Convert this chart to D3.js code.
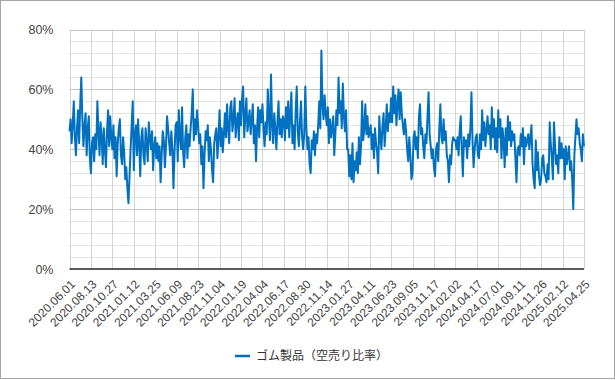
<!DOCTYPE html>
<html>
<head>
<meta charset="utf-8">
<script src="https://cdn.jsdelivr.net/npm/d3@7"></script>
<style>
  html, body { margin: 0; padding: 0; background: #fff; }
  svg { display: block; }
</style>
</head>
<body>
<svg id="chart" width="615" height="380"></svg>
<script>
// Tick labels (every 50 trading days)
const dateLabels = ["2020.06.01","2020.08.13","2020.10.27","2021.01.12","2021.03.25","2021.06.09",
  "2021.08.23","2021.11.04","2022.01.19","2022.04.04","2022.06.17","2022.08.30","2022.11.14",
  "2023.01.27","2023.04.11","2023.06.23","2023.09.05","2023.11.17","2024.02.02","2024.04.17",
  "2024.07.01","2024.09.11","2024.11.26","2025.02.12","2025.04.25"];

const seriesName = "ゴム製品（空売り比率）";

// Short-selling ratio (%), 20 samples per label interval
const values = [
  46, 50, 42, 48, 56, 44, 38, 47, 53, 42, 55, 64, 50, 41, 48, 52, 38, 47, 51, 37,
  32, 42, 44, 36, 45, 40, 56, 46, 38, 49, 44, 35, 47, 40, 34, 46, 53, 41, 51, 44,
  40, 48, 37, 44, 31, 42, 47, 50, 38, 35, 44, 39, 30, 34, 27, 22, 31, 40, 48, 56,
  33, 45, 48, 38, 50, 42, 31, 44, 47, 38, 35, 47, 42, 36, 49, 44, 40, 46, 33, 41,
  44, 37, 42, 36, 41, 29, 38, 46, 43, 34, 41, 51, 47, 42, 38, 46, 40, 27, 39, 48,
  49, 36, 53, 44, 40, 54, 39, 34, 44, 48, 37, 45, 41, 47, 52, 60, 43, 50, 45, 53,
  48, 42, 45, 35, 41, 27, 38, 46, 43, 48, 36, 44, 40, 33, 29, 42, 45, 47, 37, 44,
  53, 41, 47, 39, 45, 52, 44, 55, 47, 42, 54, 56, 46, 50, 57, 44, 49, 52, 43, 56,
  48, 57, 61, 44, 51, 57, 46, 49, 53, 45, 50, 55, 42, 48, 36, 47, 54, 44, 53, 49,
  55, 47, 41, 49, 45, 60, 51, 43, 65, 48, 42, 52, 47, 40, 49, 56, 45, 50, 44, 51,
  50, 43, 54, 47, 56, 44, 52, 59, 42, 48, 40, 53, 61, 46, 41, 49, 56, 44, 40, 45,
  61, 47, 40, 44, 35, 32, 43, 40, 46, 38, 45, 42, 48, 56, 47, 73, 55, 50, 58, 52,
  48, 54, 42, 50, 44, 47, 51, 38, 45, 53, 48, 64, 52, 56, 47, 62, 51, 46, 53, 40,
  40, 31, 38, 30, 42, 29, 36, 33, 39, 32, 44, 35, 41, 56, 43, 47, 55, 45, 51, 44,
  46, 48, 40, 45, 37, 47, 42, 39, 32, 51, 44, 40, 48, 52, 41, 47, 55, 46, 52, 49,
  57, 49, 61, 52, 58, 48, 55, 60, 50, 59, 52, 48, 45, 50, 46, 40, 36, 44, 38, 30,
  32, 44, 46, 40, 44, 37, 51, 55, 45, 47, 41, 37, 45, 42, 51, 59, 45, 41, 37, 40,
  34, 31, 40, 42, 36, 47, 55, 44, 42, 50, 43, 46, 38, 36, 29, 38, 35, 42, 44, 43,
  43, 40, 44, 38, 46, 51, 40, 31, 44, 41, 43, 37, 45, 41, 47, 59, 43, 34, 40, 44,
  45, 38, 37, 45, 40, 53, 43, 49, 41, 46, 51, 45, 48, 40, 54, 44, 50, 40, 47, 39,
  53, 44, 50, 37, 47, 43, 34, 47, 38, 51, 43, 49, 41, 46, 43, 45, 37, 29, 40, 41,
  38, 45, 41, 47, 35, 44, 41, 43, 45, 40, 44, 48, 35, 30, 27, 43, 33, 39, 31, 28,
  30, 37, 38, 32, 31, 29, 35, 30, 49, 42, 37, 30, 49, 41, 35, 38, 32, 44, 37, 42,
  37, 40, 30, 41, 35, 38, 41, 33, 36, 30, 20, 38, 44, 50, 45, 47, 42, 40, 36, 45,
  41
];

const yTicks = [0, 20, 40, 60, 80];
const yMinor = d3.range(0, 81, 4);

const svg = d3.select("#chart");
const W = 615, H = 380;
const plot = { left: 69.5, right: 584, top: 29.5, bottom: 269 };

// outer border
svg.append("rect").attr("x", 0.5).attr("y", 0.5).attr("width", W - 1).attr("height", H - 2)
  .attr("fill", "#fff").attr("stroke", "#a6a6a6");

const x = d3.scaleLinear().domain([0, values.length - 1]).range([plot.left, plot.right]);
const y = d3.scaleLinear().domain([0, 80]).range([plot.bottom, plot.top]);

const step = (values.length - 1) / (dateLabels.length - 1);
const tickPos = dateLabels.map((d, i) => i * step);

// minor horizontal grid
svg.append("g").selectAll("line").data(yMinor.filter(v => v % 20 !== 0)).join("line")
  .attr("x1", plot.left).attr("x2", plot.right)
  .attr("y1", d => Math.round(y(d)) + 0.5).attr("y2", d => Math.round(y(d)) + 0.5)
  .attr("stroke", "#e4e4e4").attr("stroke-width", 1);

// vertical grid
svg.append("g").selectAll("line").data(tickPos).join("line")
  .attr("x1", d => Math.round(x(d)) + 0.5).attr("x2", d => Math.round(x(d)) + 0.5)
  .attr("y1", plot.top).attr("y2", plot.bottom)
  .attr("stroke", "#d4d4d4").attr("stroke-width", 1);

// major horizontal grid
svg.append("g").selectAll("line").data(yTicks.filter(v => v > 0)).join("line")
  .attr("x1", plot.left).attr("x2", plot.right)
  .attr("y1", d => Math.round(y(d)) + 0.5).attr("y2", d => Math.round(y(d)) + 0.5)
  .attr("stroke", "#c8c8c8").attr("stroke-width", 1);

// y axis labels
const yAxis = d3.axisLeft(y).tickValues(yTicks).tickFormat(d => d + "%").tickSize(0).tickPadding(0);
const gy = svg.append("g").attr("transform", `translate(${plot.left - 16},0)`).call(yAxis);
gy.select(".domain").remove();
gy.selectAll("text").attr("font-family", "Liberation Sans, Arial, sans-serif")
  .attr("font-size", 12.5).attr("fill", "#444");

// x axis
const xAxis = d3.axisBottom(x).tickValues(tickPos).tickFormat((d, i) => dateLabels[i]).tickSize(0);
const gx = svg.append("g").attr("transform", `translate(0,${plot.bottom})`).call(xAxis);
gx.select(".domain").remove();
gx.selectAll("text")
  .attr("font-family", "Liberation Sans, Arial, sans-serif")
  .attr("font-size", 12).attr("fill", "#444")
  .attr("text-anchor", "end")
  .attr("dy", "0.35em").attr("y", 0)
  .attr("transform", "translate(3,13) rotate(-45)");

// axis line at 0%
svg.append("line").attr("x1", plot.left).attr("x2", plot.right)
  .attr("y1", plot.bottom).attr("y2", plot.bottom)
  .attr("stroke", "#222").attr("stroke-width", 1.5);

// series line
const line = d3.line().x((d, i) => x(i)).y(d => y(d));
svg.append("path").datum(values).attr("d", line)
  .attr("fill", "none").attr("stroke", "#0070c0").attr("stroke-width", 2)
  .attr("stroke-linejoin", "round");

// legend
const lg = svg.append("g").attr("transform", "translate(235,356)");
lg.append("line").attr("x1", 0).attr("x2", 15).attr("y1", 0).attr("y2", 0)
  .attr("stroke", "#0070c0").attr("stroke-width", 2.5);
lg.append("text").attr("x", 21).attr("y", 0).attr("dy", "0.35em")
  .attr("font-family", "Noto Sans CJK JP, sans-serif").attr("font-size", 12)
  .attr("fill", "#333").text(seriesName);
</script>
</body>
</html>
